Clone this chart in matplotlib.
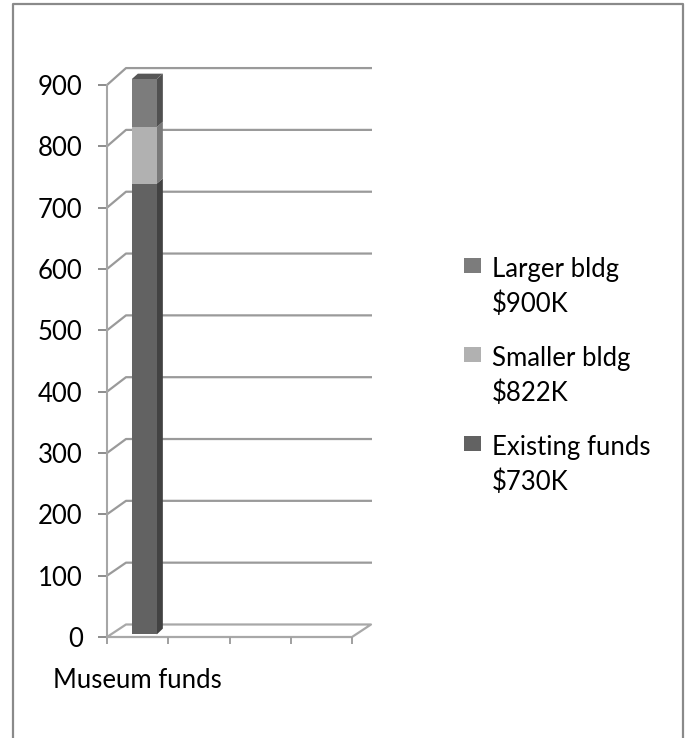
import numpy as np
import matplotlib
matplotlib.use("Agg")
import matplotlib.pyplot as plt
from matplotlib.patches import Polygon, Rectangle
from matplotlib.lines import Line2D

plt.rcParams['font.family'] = ['Lato', 'DejaVu Sans']

# ---- data ----
category = "Museum funds"
series_names = ["Existing funds", "Smaller bldg", "Larger bldg"]
cumulative = [730, 822, 900]            # stacked totals ($K)
y_ticks = list(range(0, 1000, 100))

# ---- style ----
front_colors = ["#626262", "#b1b1b1", "#7c7c7c"]
side_colors = ["#424242", "#797979", "#505050"]
top_color = "#565656"
grid_color = "#9a9a9a"
FS = 18.5

W, H = 686, 738
fig = plt.figure(figsize=(W / 100, H / 100), dpi=100)


def fx(px):
    return px / W


def fy(py):
    return 1 - py / H


ax = fig.add_axes([fx(107), fy(637), 245 / W, 552 / H])
ax.set_xlim(0, 245)
ax.set_ylim(0, 900)

n_slots = 4
slot_w = 245 / n_slots
depth_dx = 19.0          # px (x data units == px)
depth_dy = 20.4          # value units at full depth
persp = 0.008


def dx(x, d):
    return x + depth_dx * d


def dy(v, d):
    return v * (1 + persp * d) + depth_dy * d


# back wall gridlines
back_right = 265
for v in y_ticks:
    if v == 0:
        continue
    ax.plot([0, dx(0, 1), back_right], [v, dy(v, 1), dy(v, 1)],
            color=grid_color, lw=1.6, clip_on=False, zorder=1,
            solid_capstyle='butt')

# floor
floor_col = "#a8a8a8"
ax.plot([0, dx(0, 1), dx(245, 1), 245, 0],
        [0, dy(0, 1), dy(0, 1), 0, 0],
        color=floor_col, lw=1.6, clip_on=False, zorder=1)

# bar (stacked, pseudo-3D)
cx = slot_w / 2
bw = 25
d0, d1 = 0.35, 0.67
bottoms = [0] + cumulative[:-1]
for i, (b, t) in enumerate(zip(bottoms, cumulative)):
    yb0, yt0 = dy(b, d0) - (3 if b == 0 else 0), dy(t, d0)
    ax.bar(dx(cx, d0), yt0 - yb0, width=bw, bottom=yb0,
           color=front_colors[i], zorder=4, clip_on=False, linewidth=0)
    xr0, xr1 = dx(cx + bw / 2, d0), dx(cx + bw / 2, d1)
    side = Polygon([[xr0, yb0], [xr1, dy(b, d1)], [xr1, dy(t, d1)], [xr0, yt0]],
                   closed=True, facecolor=side_colors[i], edgecolor='none',
                   zorder=3, clip_on=False)
    ax.add_patch(side)
    if i == len(cumulative) - 1:
        xl0, xl1 = dx(cx - bw / 2, d0), dx(cx - bw / 2, d1)
        top = Polygon([[xl0, yt0], [xr0, yt0], [xr1, dy(t, d1)], [xl1, dy(t, d1)]],
                      closed=True, facecolor=top_color, edgecolor='none',
                      zorder=3, clip_on=False)
        ax.add_patch(top)

# axes styling
for s in ['top', 'right', 'bottom']:
    ax.spines[s].set_visible(False)
ax.spines['left'].set_color('#a6a6a6')
ax.spines['left'].set_linewidth(1.5)
ax.set_yticks(y_ticks)
ax.set_yticklabels([str(v) for v in y_ticks])
ax.tick_params(axis='y', direction='out', length=6.5, width=1.4,
               color='#8c8c8c', pad=11, labelsize=FS, labelcolor='black')
ax.set_xticks(np.linspace(0, 245, n_slots + 1))
ax.set_xticklabels([''] * (n_slots + 1))
ax.tick_params(axis='x', which='major', direction='out', length=5, width=1.4,
               color='#a0a0a0')
ax.set_xticks([cx], minor=True)
ax.set_xticklabels([category], minor=True)
ax.tick_params(axis='x', which='minor', length=0, pad=22, labelsize=FS,
               labelcolor='black')
ax.patch.set_alpha(0)

# legend (manual, top entry = last series)
leg_x_sq = 464
leg_x_txt = 492
base0 = 277
entry_gap = 89
line_gap = 35
for k, i in enumerate(reversed(range(len(series_names)))):
    yb = base0 + k * entry_gap
    fig.add_artist(Rectangle((fx(leg_x_sq), fy(yb - 4)), 17 / W, 15 / H,
                             transform=fig.transFigure,
                             facecolor=front_colors[i], edgecolor='none'))
    fig.text(fx(leg_x_txt), fy(yb), series_names[i], fontsize=FS,
             va='baseline', ha='left')
    fig.text(fx(leg_x_txt), fy(yb + line_gap), f"${cumulative[i]}K",
             fontsize=FS, va='baseline', ha='left')

# chart border
bc = '#8a8a8a'
fig.add_artist(Line2D([fx(13), fx(13), fx(683), fx(683)],
                      [0, fy(4), fy(4), 0], transform=fig.transFigure,
                      color=bc, lw=1.6))

fig.savefig("out.png", dpi=100)
